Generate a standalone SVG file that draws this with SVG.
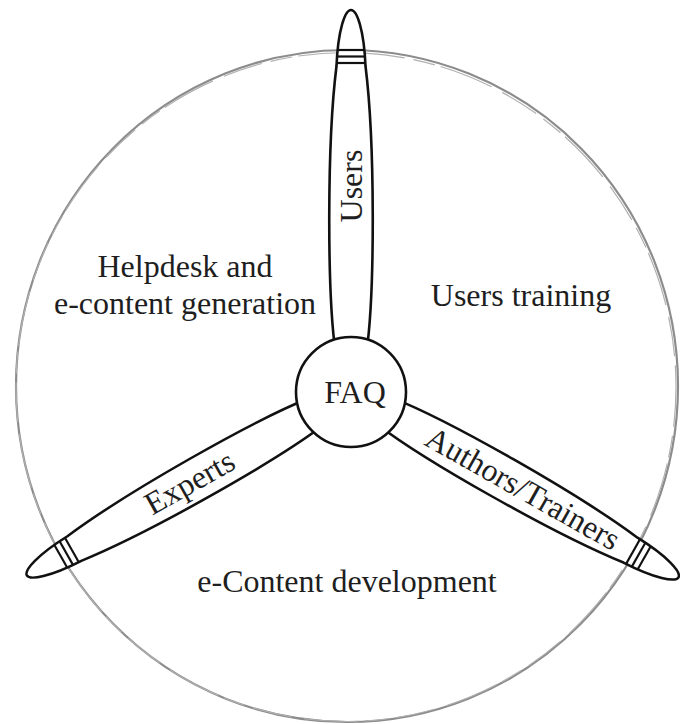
<svg xmlns="http://www.w3.org/2000/svg" width="680" height="724" viewBox="0 0 680 724">
  <defs>
    <style>
      .lbl { font-family: "Liberation Serif", "Times New Roman", serif; font-size: 32px; fill: #1e1e1e; }
      .blade { fill: #ffffff; stroke: #111111; stroke-width: 2.6; stroke-linejoin: round; }
      .ring { stroke: #111111; stroke-width: 2.2; fill: none; }
      .hub { fill: #ffffff; stroke: #111111; stroke-width: 2.6; }
      .rim1 { fill: none; stroke: #8c8c8c; stroke-width: 2.2; }
      .rim2 { fill: none; stroke: #b0b0b0; stroke-width: 1.2; stroke-dasharray: 40 9 22 6 55 12; }
    </style>
    <g id="bladeShape">
      <path class="blade" d="M 15.5,-40 C 24,-100 24,-250 14.5,-326 C 13,-362 6,-382 0,-382 C -6,-382 -13,-362 -14.5,-326 C -24,-250 -24,-100 -15.5,-40 Z"/>
      <line class="ring" x1="-13.6" y1="-342" x2="13.6" y2="-342"/>
      <line class="ring" x1="-14.2" y1="-335.5" x2="14.2" y2="-335.5"/>
      <line class="ring" x1="-14.6" y1="-329" x2="14.6" y2="-329"/>
    </g>
  </defs>

  <rect width="680" height="724" fill="#ffffff"/>

  <g id="rim">
    <ellipse class="rim1" cx="347" cy="386" rx="331" ry="336"/>
    <ellipse class="rim2" cx="346" cy="387" rx="330" ry="334.5"/>
  </g>

  <g id="regions">
    <text class="lbl" x="185" y="277" text-anchor="middle">Helpdesk and</text>
    <text class="lbl" x="185" y="314" text-anchor="middle">e-content generation</text>
    <text class="lbl" x="521" y="306" text-anchor="middle">Users training</text>
    <text class="lbl" x="347" y="592" text-anchor="middle">e-Content development</text>
  </g>

  <g id="connectors">
    <g id="blade-users">
      <use href="#bladeShape" transform="translate(351,392)"/>
      <text class="lbl" text-anchor="middle" transform="translate(362,186) rotate(-90)">Users</text>
    </g>
    <g id="blade-authors">
      <use href="#bladeShape" transform="translate(351,392) rotate(119.5) scale(0.985)"/>
      <text class="lbl" text-anchor="middle" transform="translate(517.6,497.7) rotate(29.5)">Authors/Trainers</text>
    </g>
    <g id="blade-experts">
      <use href="#bladeShape" transform="translate(351,392) rotate(-119.5) scale(0.975)"/>
      <text class="lbl" text-anchor="middle" transform="translate(194.9,491.8) rotate(-29.5)">Experts</text>
    </g>
  </g>

  <g id="node-faq">
    <circle class="hub" cx="351" cy="392" r="55"/>
    <text class="lbl" x="355" y="403" text-anchor="middle">FAQ</text>
  </g>
</svg>
